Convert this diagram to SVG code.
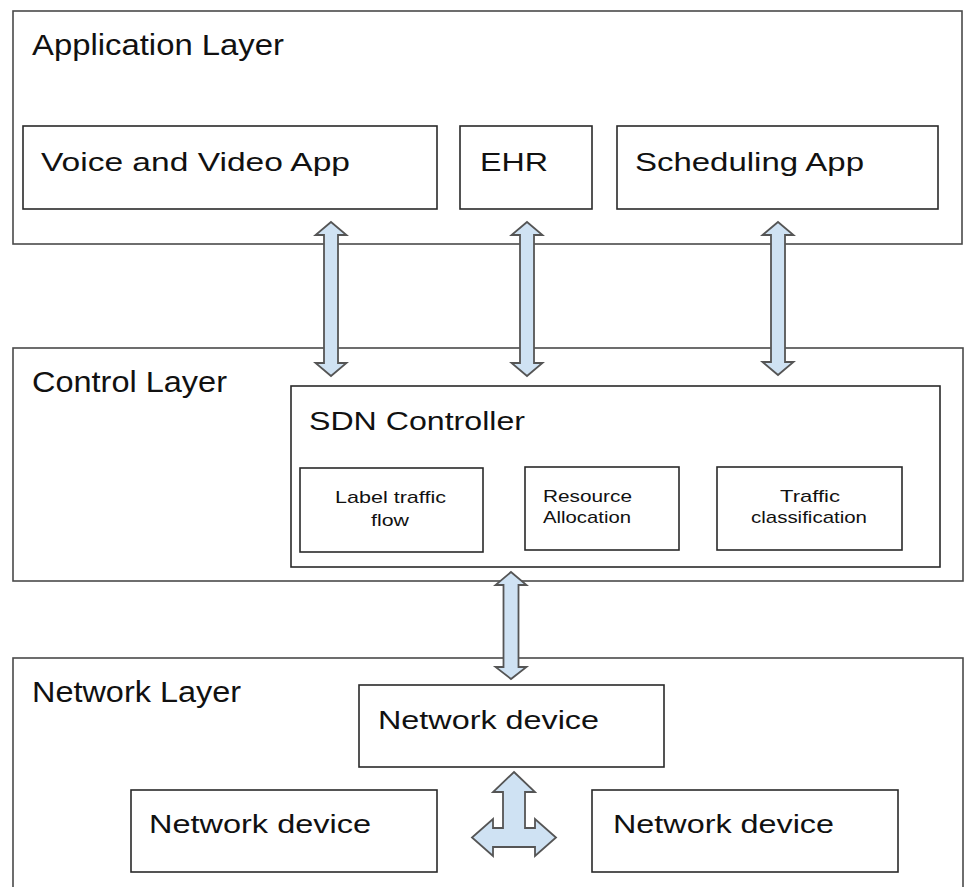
<svg xmlns="http://www.w3.org/2000/svg" width="964" height="887" viewBox="0 0 964 887">
<style>
.layer{fill:#fff;stroke:#4a4a4a;stroke-width:1.6}
.box{fill:#fff;stroke:#2a2a2a;stroke-width:1.6}
.t{font-family:"Liberation Sans",Arial,sans-serif;fill:#111}
.lt{font-size:29px}
.nt{font-size:26px}
.st{font-size:17px}
.arr{fill:#cfe2f3;stroke:#555;stroke-width:1.8;stroke-linejoin:miter}
</style>
<rect width="964" height="887" fill="#fff"/>
<g id="application-layer">
<rect class="layer" x="13" y="11" width="949" height="233"/>
<text class="t lt" x="32" y="55" textLength="252" lengthAdjust="spacingAndGlyphs">Application Layer</text>
</g>
<g id="voice-video-app">
<rect class="box" x="23" y="126" width="414" height="83"/>
<text class="t nt" x="41" y="171" textLength="309" lengthAdjust="spacingAndGlyphs">Voice and Video App</text>
</g>
<g id="ehr">
<rect class="box" x="460" y="126" width="132" height="83"/>
<text class="t nt" x="480" y="171" textLength="68" lengthAdjust="spacingAndGlyphs">EHR</text>
</g>
<g id="scheduling-app">
<rect class="box" x="617" y="126" width="321" height="83"/>
<text class="t nt" x="635" y="171" textLength="229" lengthAdjust="spacingAndGlyphs">Scheduling App</text>
</g>
<g id="control-layer">
<rect class="layer" x="13" y="348" width="950" height="233"/>
<text class="t lt" x="32" y="392" textLength="195" lengthAdjust="spacingAndGlyphs">Control Layer</text>
</g>
<g id="sdn-controller">
<rect class="box" x="291" y="386" width="649" height="181"/>
<text class="t nt" x="309" y="430" textLength="216" lengthAdjust="spacingAndGlyphs">SDN Controller</text>
</g>
<g id="label-traffic-flow">
<rect class="box" x="300" y="468" width="183" height="84"/>
<text class="t st" x="335" y="503" textLength="111" lengthAdjust="spacingAndGlyphs">Label traffic</text>
<text class="t st" x="371" y="526" textLength="38" lengthAdjust="spacingAndGlyphs">flow</text>
</g>
<g id="resource-allocation">
<rect class="box" x="525" y="467" width="154" height="83"/>
<text class="t st" x="543" y="502" textLength="89" lengthAdjust="spacingAndGlyphs">Resource</text>
<text class="t st" x="543" y="523" textLength="88" lengthAdjust="spacingAndGlyphs">Allocation</text>
</g>
<g id="traffic-classification">
<rect class="box" x="717" y="467" width="185" height="83"/>
<text class="t st" x="780" y="502" textLength="60" lengthAdjust="spacingAndGlyphs">Traffic</text>
<text class="t st" x="751" y="523" textLength="116" lengthAdjust="spacingAndGlyphs">classification</text>
</g>
<g id="network-layer">
<rect class="layer" x="13" y="658" width="950" height="240"/>
<text class="t lt" x="32" y="702" textLength="209" lengthAdjust="spacingAndGlyphs">Network Layer</text>
</g>
<g id="network-device-top">
<rect class="box" x="359" y="685" width="305" height="82"/>
<text class="t nt" x="378" y="729" textLength="221" lengthAdjust="spacingAndGlyphs">Network device</text>
</g>
<g id="network-device-left">
<rect class="box" x="131" y="790" width="306" height="82"/>
<text class="t nt" x="149" y="833" textLength="222" lengthAdjust="spacingAndGlyphs">Network device</text>
</g>
<g id="network-device-right">
<rect class="box" x="592" y="790" width="306" height="82"/>
<text class="t nt" x="613" y="833" textLength="221" lengthAdjust="spacingAndGlyphs">Network device</text>
</g>
<g id="connectors">
<polygon class="arr" points="331,222 346.5,235 338,235 338,363 346.5,363 331,376 315.5,363 324,363 324,235 315.5,235"/>
<polygon class="arr" points="527,222 542.5,235 534,235 534,363 542.5,363 527,376 511.5,363 520,363 520,235 511.5,235"/>
<polygon class="arr" points="778,222 793.5,235 785,235 785,362 793.5,362 778,375 762.5,362 771,362 771,235 762.5,235"/>
<polygon class="arr" points="511,572 526.5,585 518.5,585 518.5,667 526.5,667 511,679 495.5,667 503.5,667 503.5,585 495.5,585"/>
<polygon class="arr" points="514,772 535,792 525,792 525,828 535,828 535,819 556,837.5 535,856 535,847 493,847 493,856 472,837.5 493,819 493,828 503,828 503,792 493,792"/>
</g>
</svg>
